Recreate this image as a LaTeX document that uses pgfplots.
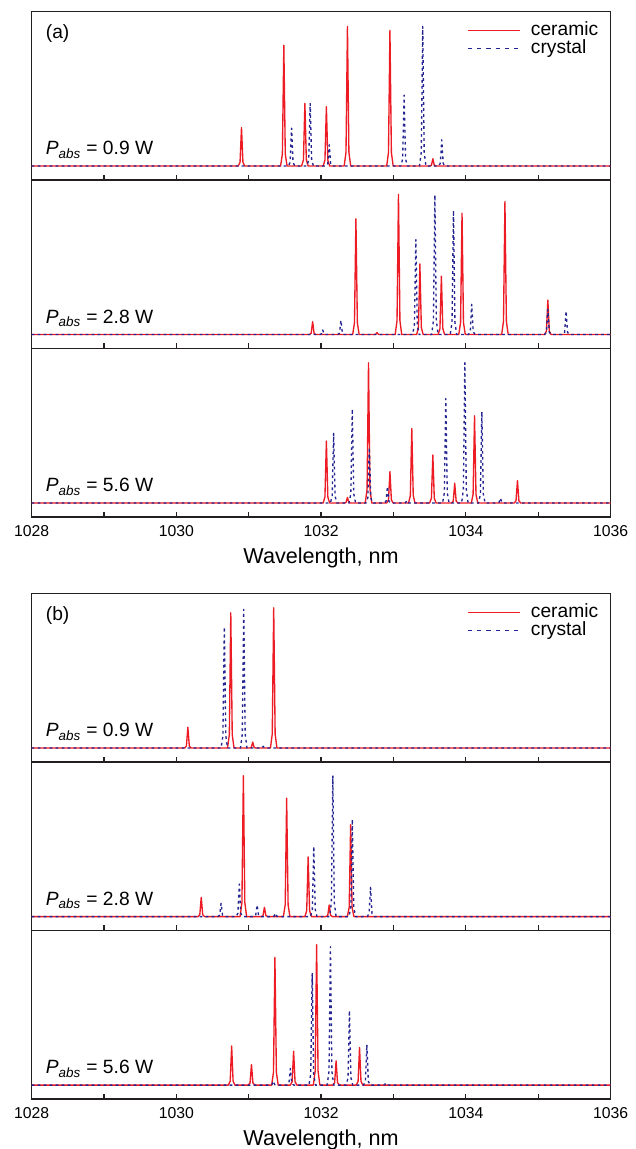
\documentclass[border=0pt]{standalone}
\usepackage{fontspec}
\setmainfont{Liberation Sans}
\usepackage{pgfplots}
\pgfplotsset{compat=1.18}

\definecolor{cred}{RGB}{237,28,36}
\definecolor{cblue}{RGB}{35,35,145}
\definecolor{frame}{RGB}{35,31,32}

\tikzset{
  ceramic/.style={color=cred, draw=cred, line width=0.9pt, line join=round},
  crystal/.style={color=cblue, draw=cblue, line width=0.9pt, line join=round, dash pattern=on 1.8pt off 2.2pt},
}

\pgfplotsset{
  panel/.style={
    scale only axis, width=386pt, height=112.33pt,
    xmin=1028, xmax=1036, ymin=-42, ymax=466,
    axis line style={line width=1.1pt, color=frame},
    ytick=\empty,
    xtick={1028,1029,...,1036},
    xticklabels={},
    xtick pos=lower, tick align=inside,
    major tick length=3.4pt,
    tick style={line width=0.8pt, color=frame},
    anchor=south west,
  },
  bottompanel/.style={
    xticklabels={1028,,1030,,1032,,1034,,1036},
    xticklabel style={anchor=base, yshift=-12.7pt, font=\fontsize{10.5}{12}\selectfont},
    xlabel={Wavelength, nm},
    xlabel style={at={(axis description cs:0.5,0)}, anchor=base, yshift=-31pt,
      font=\fontsize{14.4}{16}\selectfont},
  },
  leg/.style={
    legend cell align=left,
    legend style={draw=none, fill=none, inner sep=0pt, outer sep=0pt,
      at={(axis description cs:1,1)}, anchor=north east, xshift=-8.3pt, yshift=-6.8pt,
      nodes={inner sep=0pt, text height=9.2pt, text depth=2.8pt},
      row sep=0pt, font=\fontsize{12.8}{14}\selectfont,
      /tikz/every odd column/.style={column sep=6.7pt}},
    legend image code/.code={\draw[##1] (0pt,0pt) -- (35pt,0pt);},
  },
  crystalleg/.style={
    legend image code/.code={\draw[##1, dash pattern=on 2.8pt off 3.4pt] (0pt,0pt) -- (35pt,0pt);},
  },
}

\newcommand{\pabs}[1]{\node[anchor=base west, font=\fontsize{12.8}{14}\selectfont]
  at (axis description cs:0,0) [xshift=6pt, yshift=16.7pt] {\textit{P}\textsubscript{\textit{abs}} = #1 W};}
\newcommand{\plabel}[1]{\node[anchor=base west, font=\fontsize{12.8}{14}\selectfont]
  at (axis description cs:0,1) [xshift=6pt, yshift=-18.3pt] {#1};}

\begin{document}
\begin{tikzpicture}

% ---------------- (a) 0.9 W
\begin{axis}[panel, leg, at={(0pt,612.67pt)}]
\addplot[ceramic] coordinates {
(1028,0)
(1030.855,0)(1030.880,11.6)(1030.900,116)(1030.920,11.6)(1030.945,0)
(1031.440,0)(1031.465,36.4)(1031.485,364)(1031.505,36.4)(1031.530,0)
(1031.731,0)(1031.756,18.9)(1031.776,189)(1031.796,18.9)(1031.821,0)
(1032.028,0)(1032.053,17.9)(1032.073,179)(1032.093,17.9)(1032.118,0)
(1032.319,0)(1032.344,42.1)(1032.364,421)(1032.384,42.1)(1032.409,0)
(1032.906,0)(1032.931,40.9)(1032.951,409)(1032.971,40.9)(1032.996,0)
(1033.499,0)(1033.524,2.2)(1033.544,22)(1033.564,2.2)(1033.589,0)
(1036,0)};
\addplot[crystal, crystalleg] coordinates {
(1028,0)
(1031.547,0)(1031.572,11.4)(1031.592,114)(1031.612,11.4)(1031.637,0)
(1031.804,0)(1031.829,18.9)(1031.849,189)(1031.869,18.9)(1031.894,0)
(1032.067,0)(1032.092,6.4)(1032.112,64)(1032.132,6.4)(1032.157,0)
(1033.102,0)(1033.127,21.4)(1033.147,214)(1033.167,21.4)(1033.192,0)
(1033.359,0)(1033.384,42.1)(1033.404,421)(1033.424,42.1)(1033.449,0)
(1033.622,0)(1033.647,7.9)(1033.667,79)(1033.687,7.9)(1033.712,0)
(1036,0)};
\legend{ceramic, crystal}
\plabel{(a)}
\pabs{0.9}
\end{axis}

% ---------------- (a) 2.8 W
\begin{axis}[panel, at={(0pt,500.33pt)}]
\addplot[ceramic] coordinates {
(1028,0)
(1031.838,0)(1031.863,3.9)(1031.883,39)(1031.903,3.9)(1031.928,0)
(1032.436,0)(1032.461,34.9)(1032.481,349)(1032.501,34.9)(1032.526,0)
(1032.727,0)(1032.752,0.6)(1032.772,6)(1032.792,0.6)(1032.817,0)
(1033.024,0)(1033.049,42.3)(1033.069,423)(1033.089,42.3)(1033.114,0)
(1033.320,0)(1033.345,21.3)(1033.365,213)(1033.385,21.3)(1033.410,0)
(1033.617,0)(1033.642,17.6)(1033.662,176)(1033.682,17.6)(1033.707,0)
(1033.902,0)(1033.927,36.6)(1033.947,366)(1033.967,36.6)(1033.992,0)
(1034.495,0)(1034.520,40.1)(1034.540,401)(1034.560,40.1)(1034.585,0)
(1035.088,0)(1035.113,10.4)(1035.133,104)(1035.153,10.4)(1035.178,0)
(1036,0)};
\addplot[crystal] coordinates {
(1028,0)
(1031.977,0)(1032.002,1.4)(1032.022,14)(1032.042,1.4)(1032.067,0)
(1032.229,0)(1032.254,4.3)(1032.274,43)(1032.294,4.3)(1032.319,0)
(1033.264,0)(1033.289,28.6)(1033.309,286)(1033.329,28.6)(1033.354,0)
(1033.527,0)(1033.552,42.1)(1033.572,421)(1033.592,42.1)(1033.617,0)
(1033.784,0)(1033.809,37.4)(1033.829,374)(1033.849,37.4)(1033.874,0)
(1034.036,0)(1034.061,9.1)(1034.081,91)(1034.101,9.1)(1034.126,0)
(1035.088,0)(1035.113,7.6)(1035.133,76)(1035.153,7.6)(1035.178,0)
(1035.340,0)(1035.365,7.1)(1035.385,71)(1035.405,7.1)(1035.430,0)
(1036,0)};
\pabs{2.8}
\end{axis}

% ---------------- (a) 5.6 W
\begin{axis}[panel, bottompanel, at={(0pt,388pt)}]
\addplot[ceramic] coordinates {
(1028,0)
(1032.028,0)(1032.053,18.7)(1032.073,187)(1032.093,18.7)(1032.118,0)
(1032.319,0)(1032.344,1.7)(1032.364,17)(1032.384,1.7)(1032.409,0)
(1032.610,0)(1032.635,42.3)(1032.655,423)(1032.675,42.3)(1032.700,0)
(1032.906,0)(1032.931,9.5)(1032.951,95)(1032.971,9.5)(1032.996,0)
(1033.208,0)(1033.233,22.5)(1033.253,225)(1033.273,22.5)(1033.298,0)
(1033.499,0)(1033.524,14.5)(1033.544,145)(1033.564,14.5)(1033.589,0)
(1033.801,0)(1033.826,6)(1033.846,60)(1033.866,6)(1033.891,0)
(1034.075,0)(1034.100,26.3)(1034.120,263)(1034.140,26.3)(1034.165,0)
(1034.668,0)(1034.693,6.8)(1034.713,68)(1034.733,6.8)(1034.758,0)
(1036,0)};
\addplot[crystal] coordinates {
(1028,0)
(1032.128,0)(1032.153,21)(1032.173,210)(1032.193,21)(1032.218,0)
(1032.386,0)(1032.411,28.4)(1032.431,284)(1032.451,28.4)(1032.476,0)
(1032.621,0)(1032.646,16.7)(1032.666,167)(1032.686,16.7)(1032.711,0)
(1032.872,0)(1032.897,5)(1032.917,50)(1032.937,5)(1032.962,0)
(1033.141,0)(1033.166,0.8)(1033.186,8)(1033.206,0.8)(1033.231,0)
(1033.678,0)(1033.703,31.5)(1033.723,315)(1033.743,31.5)(1033.768,0)
(1033.941,0)(1033.966,42.3)(1033.986,423)(1034.006,42.3)(1034.031,0)
(1034.176,0)(1034.201,27.5)(1034.221,275)(1034.241,27.5)(1034.266,0)
(1034.433,0)(1034.458,1.5)(1034.478,15)(1034.498,1.5)(1034.523,0)
(1036,0)};
\pabs{5.6}
\end{axis}

% ---------------- (b) 0.9 W
\begin{axis}[panel, leg, at={(0pt,224.67pt)}]
\addplot[ceramic] coordinates {
(1028,0)
(1030.114,0)(1030.139,6.3)(1030.159,63)(1030.179,6.3)(1030.204,0)
(1030.707,0)(1030.732,40.8)(1030.752,408)(1030.772,40.8)(1030.797,0)
(1031.010,0)(1031.035,1.8)(1031.055,18)(1031.075,1.8)(1031.100,0)
(1031.300,0)(1031.325,42.3)(1031.345,423)(1031.365,42.3)(1031.390,0)
(1036,0)};
\addplot[crystal, crystalleg] coordinates {
(1028,0)
(1030.618,0)(1030.643,36.5)(1030.663,365)(1030.683,36.5)(1030.708,0)
(1030.886,0)(1030.911,41.8)(1030.931,418)(1030.951,41.8)(1030.976,0)
(1031.155,0)(1031.180,0.5)(1031.200,5)(1031.220,0.5)(1031.245,0)
(1036,0)};
\legend{ceramic, crystal}
\plabel{(b)}
\pabs{0.9}
\end{axis}

% ---------------- (b) 2.8 W
\begin{axis}[panel, at={(0pt,112.33pt)}]
\addplot[ceramic] coordinates {
(1028,0)
(1030.299,0)(1030.324,5.8)(1030.344,58)(1030.364,5.8)(1030.389,0)
(1030.881,0)(1030.906,42.5)(1030.926,425)(1030.946,42.5)(1030.971,0)
(1031.172,0)(1031.197,2.8)(1031.217,28)(1031.237,2.8)(1031.262,0)
(1031.479,0)(1031.504,35.7)(1031.524,357)(1031.544,35.7)(1031.569,0)
(1031.776,0)(1031.801,18)(1031.821,180)(1031.841,18)(1031.866,0)
(1032.067,0)(1032.092,3.5)(1032.112,35)(1032.132,3.5)(1032.157,0)
(1032.363,0)(1032.388,27.7)(1032.408,277)(1032.428,27.7)(1032.453,0)
(1036,0)};
\addplot[crystal] coordinates {
(1028,0)
(1030.573,0)(1030.598,4)(1030.618,40)(1030.638,4)(1030.663,0)
(1030.825,0)(1030.850,9.8)(1030.870,98)(1030.890,9.8)(1030.915,0)
(1031.071,0)(1031.096,3.5)(1031.116,35)(1031.136,3.5)(1031.161,0)
(1031.323,0)(1031.348,1)(1031.368,10)(1031.388,1)(1031.413,0)
(1031.854,0)(1031.879,21.2)(1031.899,212)(1031.919,21.2)(1031.944,0)
(1032.117,0)(1032.142,42.5)(1032.162,425)(1032.182,42.5)(1032.207,0)
(1032.386,0)(1032.411,29.3)(1032.431,293)(1032.451,29.3)(1032.476,0)
(1032.638,0)(1032.663,8.8)(1032.683,88)(1032.703,8.8)(1032.728,0)
(1036,0)};
\pabs{2.8}
\end{axis}

% ---------------- (b) 5.6 W
\begin{axis}[panel, bottompanel, at={(0pt,0pt)}]
\addplot[ceramic] coordinates {
(1028,0)
(1030.719,0)(1030.744,11.8)(1030.764,118)(1030.784,11.8)(1030.809,0)
(1030.993,0)(1031.018,6.2)(1031.038,62)(1031.058,6.2)(1031.083,0)
(1031.317,0)(1031.342,38.5)(1031.362,385)(1031.382,38.5)(1031.407,0)
(1031.575,0)(1031.600,10.2)(1031.620,102)(1031.640,10.2)(1031.665,0)
(1031.893,0)(1031.918,42.3)(1031.938,423)(1031.958,42.3)(1031.983,0)
(1032.162,0)(1032.187,7.3)(1032.207,73)(1032.227,7.3)(1032.252,0)
(1032.486,0)(1032.511,11.3)(1032.531,113)(1032.551,11.3)(1032.576,0)
(1036,0)};
\addplot[crystal] coordinates {
(1028,0)
(1031.295,0)(1031.320,1.2)(1031.340,12)(1031.360,1.2)(1031.385,0)
(1031.530,0)(1031.555,5)(1031.575,50)(1031.595,5)(1031.620,0)
(1031.832,0)(1031.857,33.8)(1031.877,338)(1031.897,33.8)(1031.922,0)
(1032.084,0)(1032.109,41.7)(1032.129,417)(1032.149,41.7)(1032.174,0)
(1032.347,0)(1032.372,22.5)(1032.392,225)(1032.412,22.5)(1032.437,0)
(1032.587,0)(1032.612,12.2)(1032.632,122)(1032.652,12.2)(1032.677,0)
(1032.850,0)(1032.875,0.6)(1032.895,6)(1032.915,0.6)(1032.940,0)
(1036,0)};
\pabs{5.6}
\end{axis}

\pgfresetboundingbox
\useasboundingbox (-21.07pt,-33.33pt) rectangle (402.27pt,732.67pt);
\end{tikzpicture}
\end{document}
